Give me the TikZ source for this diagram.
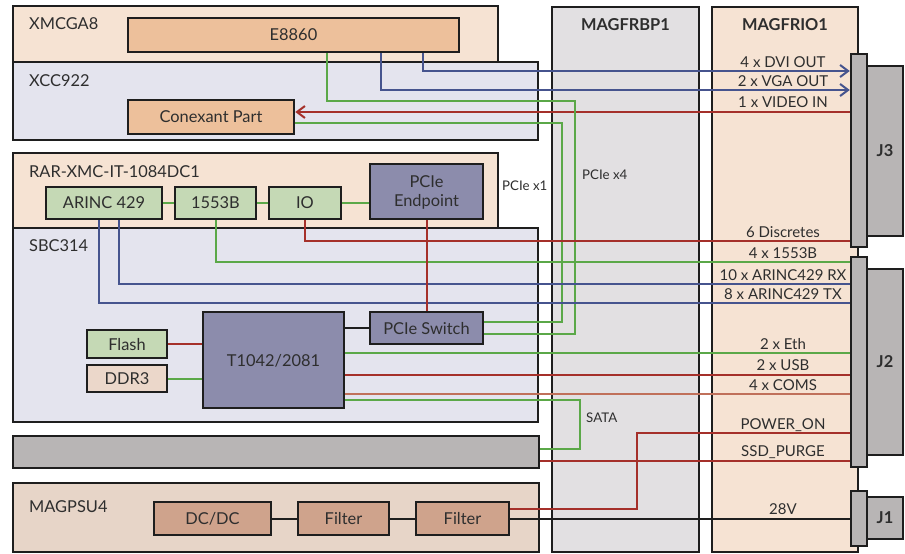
\documentclass[tikz,border=0pt]{standalone}
\usepackage{fontspec}
\setmainfont{Lato}
\usepackage{xcolor}
\usetikzlibrary{arrows.meta, calc}

\definecolor{peach}{HTML}{F6E3D3}
\definecolor{lavender}{HTML}{E4E4EE}
\definecolor{bpgray}{HTML}{E2E0E2}
\definecolor{chipbrown}{HTML}{EDC09B}
\definecolor{chipgreen}{HTML}{C5D9B5}
\definecolor{chippurple}{HTML}{8C8CAC}
\definecolor{ddrpink}{HTML}{EBD7CA}
\definecolor{bargray}{HTML}{B8B5B5}
\definecolor{psupink}{HTML}{E7D5C8}
\definecolor{psubrown}{HTML}{CFA38C}
\definecolor{boxline}{HTML}{1E1E1E}
\definecolor{txtgray}{HTML}{2E2E2E}
\definecolor{sgreen}{HTML}{5BA848}
\definecolor{sblue}{HTML}{46548E}
\definecolor{sred}{HTML}{A5302A}
\definecolor{ssalmon}{HTML}{C0705A}

\begin{document}
\begin{tikzpicture}[>={Straight Barb[length=8pt,width=12pt]}, inner sep=0pt, x=1pt, y=1pt,
	box/.style={draw=boxline, line width=2.5pt, rectangle, text=txtgray, text depth=0pt, font=\fontsize{16.4}{19}\selectfont, align=center},
	boxlbl/.style={text=txtgray, font=\fontsize{16.4}{19}\selectfont, anchor=base west},
	headlbl/.style={text=txtgray, font=\fontsize{16.4}{19}\selectfont\bfseries, anchor=base},
	siglbl/.style={text=txtgray, font=\fontsize{15}{18}\selectfont, anchor=base},
	smalllbl/.style={text=txtgray, font=\fontsize{13.3}{16}\selectfont, anchor=base west},
	grnsig/.style={draw=sgreen, line width=2pt},
	bluesig/.style={draw=sblue, line width=2pt},
	redsig/.style={draw=sred, line width=2pt},
	comsig/.style={draw=ssalmon, line width=2pt},
	blksig/.style={draw=boxline, line width=2pt}]

	\useasboundingbox (0,0) rectangle (905,-554);

	% Traeger
	\node[box, fill=bpgray, minimum width=147pt, minimum height=545pt](magfrbp) at (625.5,-279.5) {};
	\node[box, fill=peach, minimum width=146pt, minimum height=545pt](magfrio) at (785,-279.5) {};
	\node[box, fill=peach, minimum width=485pt, minimum height=56pt](xmcga) at (255.5,-34) {};
	\node[box, fill=lavender, minimum width=525pt, minimum height=78pt](xcc) at (275.5,-101) {};
	\node[box, fill=peach, minimum width=485pt, minimum height=75pt](rar) at (255.5,-190.5) {};
	\node[box, fill=lavender, minimum width=525pt, minimum height=194pt](sbc) at (275.5,-325) {};
	\node[box, fill=bargray, minimum width=526pt, minimum height=32pt](graybar) at (276,-452) {};
	\node[box, fill=psupink, minimum width=526pt, minimum height=69pt](magpsu) at (276,-517.5) {};

	% Stecker
	\node[box, fill=bargray, minimum width=36pt, minimum height=170pt, font=\fontsize{16.4}{19}\selectfont\bfseries](j3) at (885,-151) {J3};
	\node[box, fill=bargray, minimum width=36pt, minimum height=186pt, font=\fontsize{16.4}{19}\selectfont\bfseries](j2) at (885,-362) {J2};
	\node[box, fill=bargray, minimum width=36pt, minimum height=42pt, font=\fontsize{16.4}{19}\selectfont\bfseries](j1) at (885,-518) {J1};
	\node[box, fill=bargray, minimum width=16pt, minimum height=193pt](j3bar) at (859,-150.5) {};
	\node[box, fill=bargray, minimum width=16pt, minimum height=210pt](j2bar) at (859,-362) {};
	\node[box, fill=bargray, minimum width=16pt, minimum height=55pt](j1bar) at (859,-518.5) {};

	% Bausteine
	\node[box, fill=chipbrown, minimum width=331pt, minimum height=34pt](e8860) at (293.5,-35) {E8860};
	\node[box, fill=chipbrown, minimum width=166pt, minimum height=34pt](conexant) at (211,-117) {Conexant Part};
	\node[box, fill=chipgreen, minimum width=116pt, minimum height=32pt](arinc) at (104,-203) {ARINC 429};
	\node[box, fill=chipgreen, minimum width=81pt, minimum height=32pt](b1553) at (215.5,-203) {1553B};
	\node[box, fill=chipgreen, minimum width=72pt, minimum height=32pt](io) at (305,-203) {IO};
	\node[box, fill=chippurple, minimum width=113pt, minimum height=55pt](endpoint) at (426.5,-191.5) {PCIe\\Endpoint};
	\node[box, fill=chippurple, minimum width=113pt, minimum height=32pt](pswitch) at (426.5,-328) {PCIe Switch};
	\node[box, fill=chippurple, minimum width=141pt, minimum height=96pt](t1042) at (273.5,-360) {T1042/2081};
	\node[box, fill=chipgreen, minimum width=80pt, minimum height=28pt](flash) at (127,-344) {Flash};
	\node[box, fill=ddrpink, minimum width=80pt, minimum height=27pt](ddr3) at (127,-378.5) {DDR3};
	\node[box, fill=psubrown, minimum width=117pt, minimum height=33pt](dcdc) at (212.5,-518.5) {DC/DC};
	\node[box, fill=psubrown, minimum width=91pt, minimum height=33pt](filter1) at (343.5,-518.5) {Filter};
	\node[box, fill=psubrown, minimum width=93pt, minimum height=33pt](filter2) at (462.5,-518.5) {Filter};

	% Video
	\draw[bluesig, ->] (e8860.south -| 423,0) |- (j3bar.west |- 0,-71);
	\draw[bluesig, ->] (e8860.south -| 381,0) |- (j3bar.west |- 0,-90);
	\draw[redsig, ->] (j3bar.west |- 0,-112) -- (conexant.east |- 0,-112);
	\draw[grnsig] (e8860.south -| 327,0) |- (575,-101) |- (pswitch.east |- 0,-334);
	\draw[grnsig] (conexant.east |- 0,-123) -| (562,-322) -- (pswitch.east |- 0,-322);

	% RAR-XMC
	\draw[grnsig] (arinc.east) -- (b1553.west);
	\draw[grnsig] (b1553.east) -- (io.west);
	\draw[grnsig] (io.east) -- (endpoint.west |- io.east);
	\draw[redsig] (io.south) |- (j3bar.west |- 0,-241);
	\draw[grnsig] (b1553.south) |- (j2bar.west |- 0,-262);
	\draw[bluesig] (arinc.south -| 119,0) |- (j2bar.west |- 0,-284);
	\draw[bluesig] (arinc.south -| 99,0) |- (j2bar.west |- 0,-303);
	\draw[redsig] (endpoint.south) -- (pswitch.north);

	% SBC
	\draw[blksig] (t1042.east |- pswitch.west) -- (pswitch.west);
	\draw[redsig] (flash.east) -- (t1042.west |- flash.east);
	\draw[grnsig] (ddr3.east) -- (t1042.west |- ddr3.east);
	\draw[grnsig] (t1042.east |- 0,-353) -- (j2bar.west |- 0,-353);
	\draw[redsig] (t1042.east |- 0,-375) -- (j2bar.west |- 0,-375);
	\draw[comsig] (t1042.east |- 0,-394) -- (j2bar.west |- 0,-394);
	\draw[grnsig] (t1042.east |- 0,-400) -| (580,-449) -- (graybar.east |- 0,-449);
	\draw[redsig] (graybar.east |- 0,-461) -- (j2bar.west |- 0,-461);

	% Versorgung
	\draw[blksig] (dcdc.east) -- (filter1.west);
	\draw[blksig] (filter1.east) -- (filter2.west);
	\draw[redsig] (filter2.east |- 0,-509) -| (637,-433) -- (j2bar.west |- 0,-433);
	\draw[blksig] (filter2.east) -- (j1bar.west |- filter2.east);

	% Beschriftungen
	\node[boxlbl](xmcgalbl) at (29,-29) {XMCGA8};
	\node[boxlbl](xcclbl) at (29,-86) {XCC922};
	\node[boxlbl](rarlbl) at (29,-177) {RAR-XMC-IT-1084DC1};
	\node[boxlbl](sbclbl) at (29,-251) {SBC314};
	\node[boxlbl](psulbl) at (29,-512) {MAGPSU4};
	\node[headlbl](bplbl) at (625.5,-30) {MAGFRBP1};
	\node[headlbl](iolbl) at (785,-30) {MAGFRIO1};
	\node[smalllbl](pcie1) at (502,-190) {PCIe x1};
	\node[smalllbl](pcie4) at (582,-179) {PCIe x4};
	\node[smalllbl](sata) at (586,-422) {SATA};

	\node[siglbl](dvi) at (783,-67) {4 x DVI OUT};
	\node[siglbl](vga) at (783,-86) {2 x VGA OUT};
	\node[siglbl](vidin) at (783,-107) {1 x VIDEO IN};
	\node[siglbl](discr) at (783,-237) {6 Discretes};
	\node[siglbl](mil) at (783,-258) {4 x 1553B};
	\node[siglbl](arincrx) at (783,-280) {10 x ARINC429 RX};
	\node[siglbl](arinctx) at (783,-299) {8 x ARINC429 TX};
	\node[siglbl](eth) at (783,-349) {2 x Eth};
	\node[siglbl](usb) at (783,-370) {2 x USB};
	\node[siglbl](coms) at (783,-390) {4 x COMS};
	\node[siglbl](pwron) at (783,-429) {POWER\_ON};
	\node[siglbl](purge) at (783,-456) {SSD\_PURGE};
	\node[siglbl](v28) at (783,-514) {28V};
\end{tikzpicture}
\end{document}
